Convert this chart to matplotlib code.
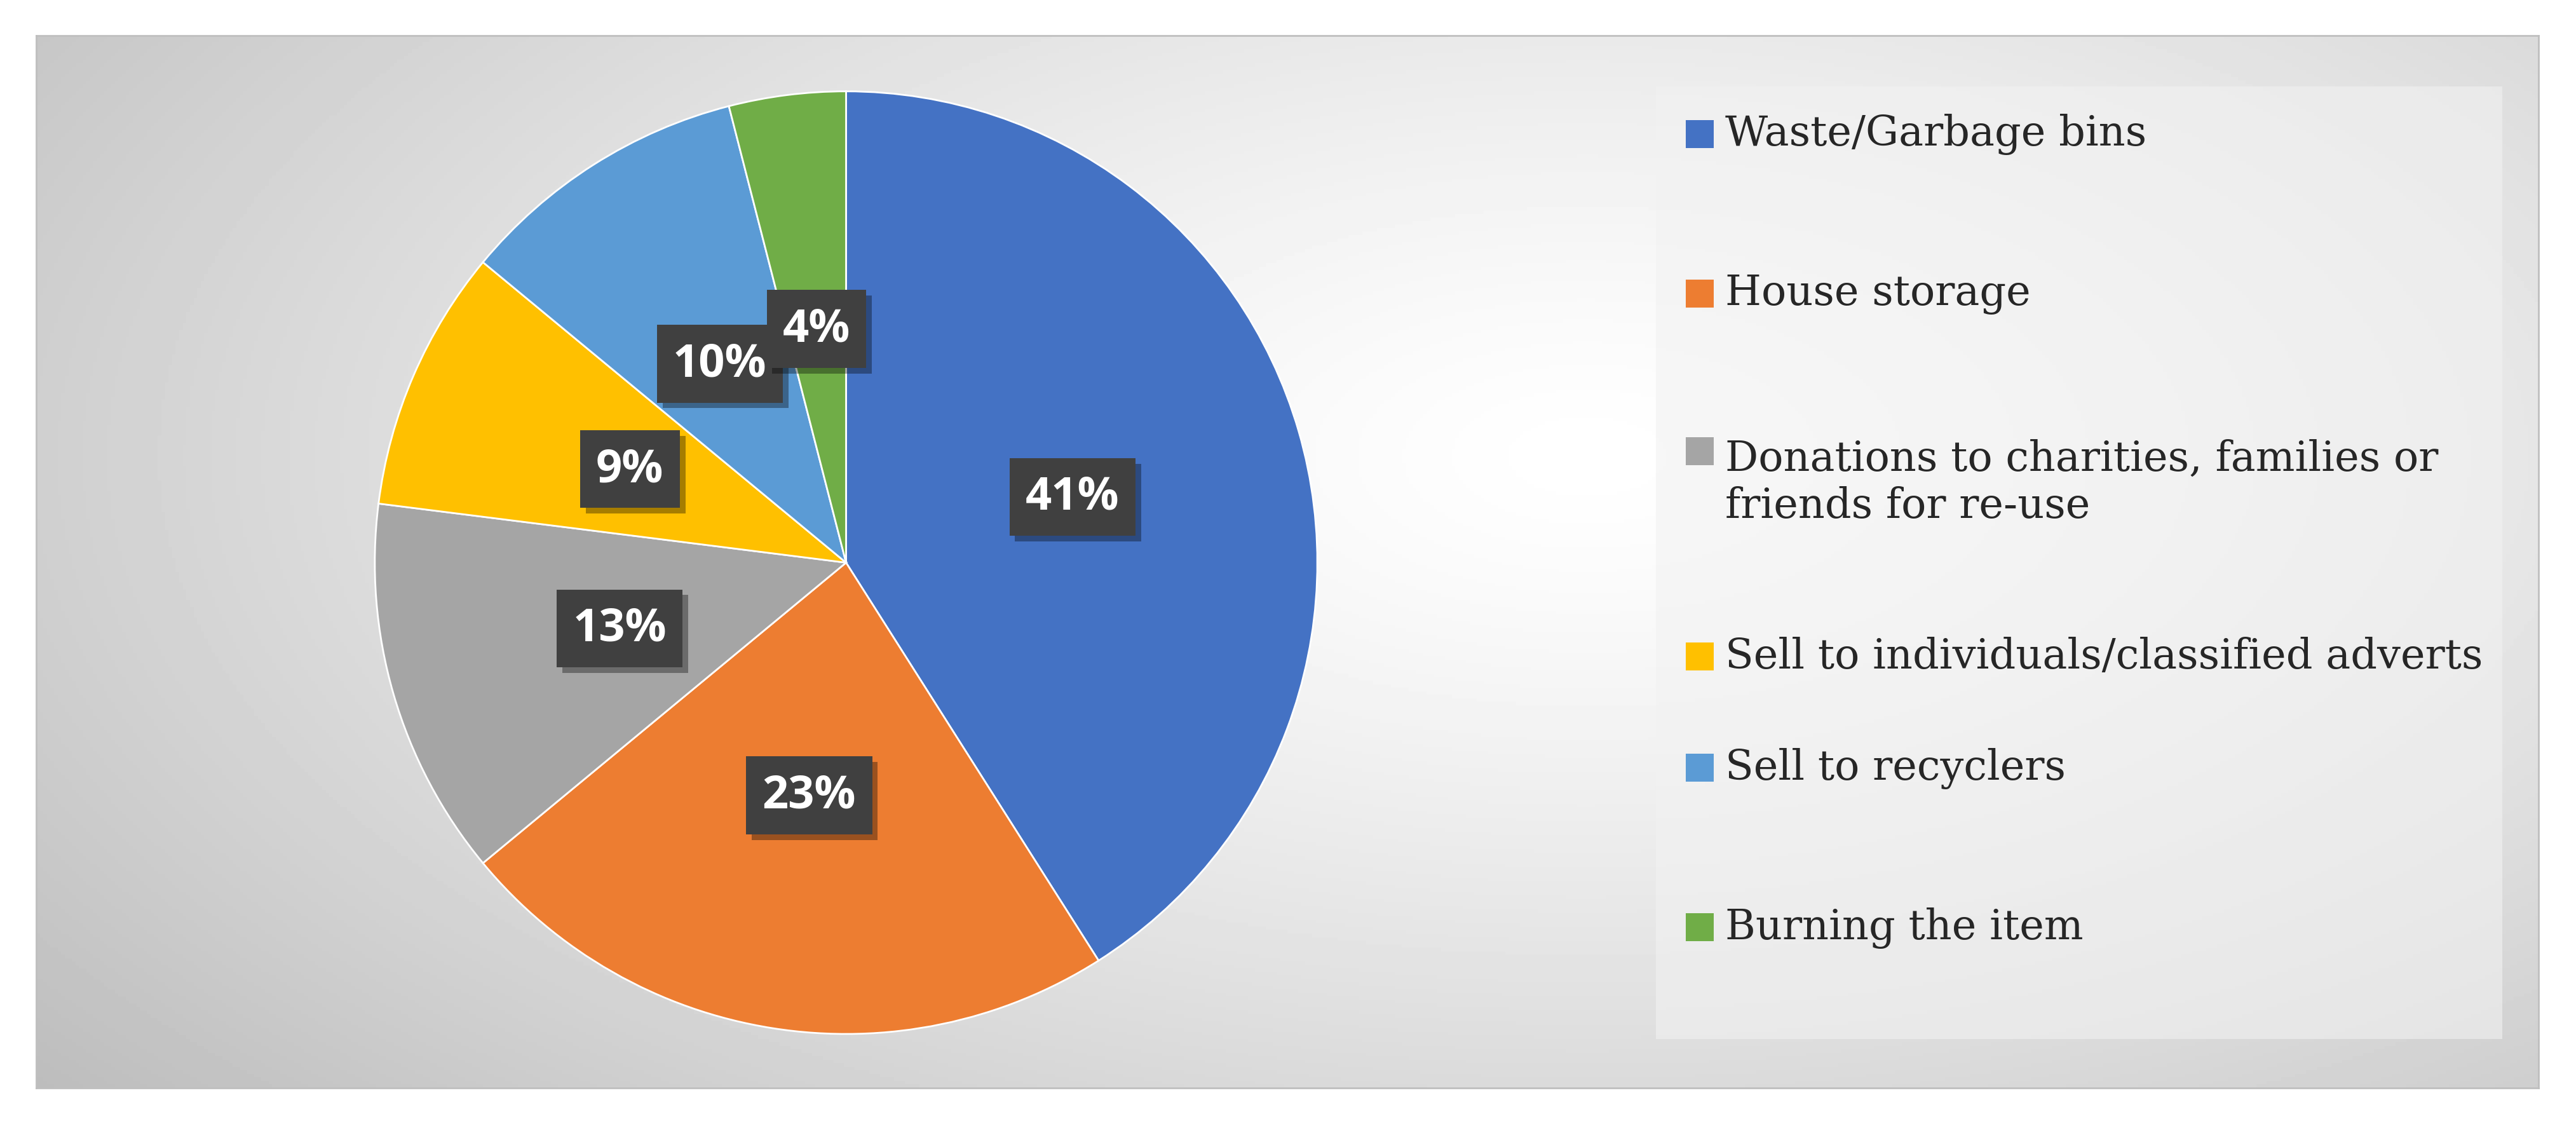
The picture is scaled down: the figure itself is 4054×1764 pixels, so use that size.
import matplotlib
matplotlib.use("Agg")
import matplotlib.pyplot as plt
import numpy as np
from matplotlib.patches import Rectangle

categories = ["Waste/Garbage bins", "House storage",
              "Donations to charities, families or\nfriends for re-use",
              "Sell to individuals/classified adverts", "Sell to recyclers",
              "Burning the item"]
values = [41, 23, 13, 9, 10, 4]
colors = ["#4472C4", "#ED7D31", "#A5A5A5", "#FFC000", "#5B9BD5", "#70AD47"]

W, H = 4054, 1765
fig = plt.figure(figsize=(W/100, H/100), dpi=100)
fig.patch.set_facecolor("white")

bx0, bx1, by0, by1 = 22/1568, 1545/1568, 1-663/683, 1-22/683
bg = fig.add_axes([bx0, by0, bx1-bx0, by1-by0])
yy, xx = np.mgrid[0:1:300j, 0:1:700j]
d = np.sqrt(((xx-0.62)/0.8)**2 + ((yy-0.6)/0.95)**2)
g = np.clip(1.0 - 0.26*d**1.3, 0.74, 1.0)
bg.imshow(g, cmap="gray", vmin=0, vmax=1, extent=[0, 1, 0, 1], aspect="auto", origin="lower")
bg.set_xticks([]); bg.set_yticks([])
for s in bg.spines.values():
    s.set_color("#BFBFBF"); s.set_linewidth(2)

cx, cy, r = 515/1568, 1-343/683, 287/683
hfrac = 2*r
wfrac = hfrac*H/W
ax = fig.add_axes([cx-wfrac/2, cy-hfrac/2, wfrac, hfrac])
ax.set_facecolor("none")
wedges, _ = ax.pie(values, colors=colors, startangle=90, counterclock=False,
                   radius=1, wedgeprops=dict(edgecolor="white", linewidth=2))
ax.set_xlim(-1, 1); ax.set_ylim(-1, 1); ax.axis("off")
cum = 0
for v in values:
    mid = np.deg2rad(90 - 360*(cum + v/2)/100)
    cum += v
    x, y = 0.5*np.cos(mid), 0.5*np.sin(mid)
    # shadow box
    ax.text(x+0.012, y-0.012, f"{v}%", ha="center", va="center", color="none",
            fontsize=52, fontweight="bold", family="Open Sans",
            bbox=dict(boxstyle="square,pad=0.35", facecolor="black", alpha=0.35, edgecolor="none"))
    ax.text(x, y, f"{v}%", ha="center", va="center", color="white",
            fontsize=52, fontweight="bold", family="Open Sans",
            bbox=dict(boxstyle="square,pad=0.35", facecolor="#404040", edgecolor="none"))

lx0, lx1, ly0, ly1 = 1008/1568, 1523/1568, 1-633/683, 1-53/683
fig.patches.append(Rectangle((lx0, ly0), lx1-lx0, ly1-ly0, transform=fig.transFigure,
                             facecolor="#F2F2F2", alpha=0.6, edgecolor="none"))
ys = [82, 179, 294, 400, 468, 565]
sq = 17/1568
for c, lab, yv in zip(colors, categories, ys):
    yf = 1-yv/683
    ytop = 1-275/683 if "\n" in lab else yf
    fig.patches.append(Rectangle((1026/1568, ytop-sq*W/H/2), sq, sq*W/H,
                                 transform=fig.transFigure, facecolor=c, edgecolor="none"))
    fig.text(1050/1568, yf, lab, ha="left", va="center", fontsize=47,
             family="DejaVu Serif", color="#262626", linespacing=1.2)

fig.savefig("out.png", dpi=100)
